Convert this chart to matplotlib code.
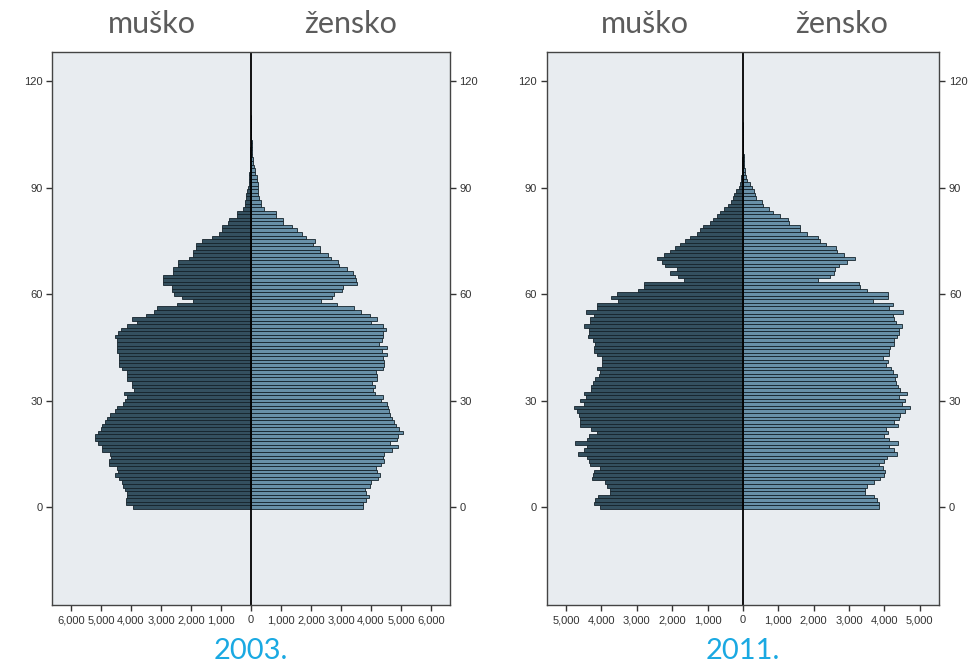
import matplotlib
matplotlib.use("Agg")
import matplotlib.pyplot as plt
from matplotlib.ticker import FuncFormatter
import numpy as np

# population by single year of age, 0 .. end
male_2003 = [3920, 4180, 4160, 4140, 4120, 4200, 4260, 4310, 4390, 4530,
             4420, 4480, 4720, 4720, 4650, 4700, 4980, 4950, 5110, 5200,
             5180, 5090, 5010, 4950, 4870, 4810, 4700, 4530, 4450, 4280,
             4200, 4140, 4220, 3900, 3980, 3980, 4140, 4140, 4140, 4310,
             4400, 4400, 4400, 4400, 4450, 4450, 4450, 4470, 4530, 4440,
             4340, 4120, 3810, 3960, 3510, 3230, 3120, 2480, 1940, 2290,
             2570, 2640, 2640, 2940, 2940, 2940, 2590, 2590, 2440, 2440,
             2050, 1940, 1940, 1840, 1840, 1640, 1300, 1060, 950, 950,
             750, 720, 460, 460, 260, 200, 200, 180, 150, 120,
             90, 80, 70, 60, 50, 40, 35, 30, 25, 20,
             18, 15, 12, 10, 8, 6, 5, 4, 3, 3, 2]
female_2003 = [3740, 3740, 3840, 3920, 3840, 3800, 3970, 3990, 4220, 4300,
               4190, 4170, 4320, 4430, 4410, 4430, 4690, 4910, 4630, 4880,
               4910, 5060, 4940, 4850, 4770, 4690, 4630, 4610, 4560, 4520,
               4320, 4390, 4130, 4080, 4130, 4020, 4190, 4190, 4170, 4390,
               4430, 4430, 4390, 4520, 4360, 4520, 4280, 4360, 4390, 4410,
               4490, 4390, 4000, 4190, 3970, 3660, 3430, 2860, 2330, 2690,
               2770, 3020, 3060, 3540, 3500, 3470, 3410, 3190, 2930, 2890,
               2660, 2580, 2300, 2300, 2080, 2130, 1830, 1690, 1520, 1360,
               1080, 1060, 830, 830, 430, 330, 330, 280, 240, 240,
               240, 240, 190, 190, 130, 130, 100, 80, 60, 50,
               40, 30, 25, 20, 15, 12, 10, 8, 6, 4, 3]
male_2011 = [4050, 4220, 4170, 4110, 3750, 3750, 3850, 3890, 4270, 4250,
             4200, 4030, 4330, 4360, 4410, 4670, 4500, 4410, 4740, 4420,
             4360, 4140, 4310, 4600, 4600, 4610, 4640, 4690, 4770, 4500,
             4600, 4450, 4500, 4310, 4290, 4250, 4170, 4060, 4030, 4120,
             3980, 3980, 3980, 4140, 4200, 4200, 4170, 4250, 4390, 4360,
             4360, 4500, 4330, 4330, 4220, 4450, 4120, 4120, 3540, 3730,
             3560, 2980, 2810, 2790, 1680, 1850, 2050, 1860, 2190, 2290,
             2430, 2240, 2050, 1910, 1770, 1630, 1510, 1300, 1210, 1130,
             920, 850, 730, 640, 530, 410, 330, 290, 240, 190,
             120, 80, 60, 45, 35, 28, 22, 18, 14, 11,
             9, 7, 5, 4, 3, 3, 2, 2, 1]
female_2011 = [3850, 3850, 3780, 3710, 3450, 3450, 3520, 3710, 3880, 3980,
               4020, 3950, 3850, 4000, 4070, 4360, 4280, 4140, 4390, 4140,
               4000, 4110, 4050, 4390, 4280, 4420, 4440, 4580, 4710, 4490,
               4580, 4420, 4630, 4440, 4390, 4330, 4310, 4360, 4240, 4180,
               4050, 4110, 3950, 4140, 4140, 4160, 4280, 4280, 4360, 4420,
               4420, 4490, 4330, 4280, 4240, 4520, 4140, 4250, 3670, 4110,
               4090, 3500, 3310, 3270, 2110, 2450, 2580, 2590, 2720, 2950,
               3170, 2860, 2670, 2640, 2340, 2180, 2110, 1820, 1600, 1600,
               1290, 1260, 1050, 850, 740, 580, 540, 380, 350, 300,
               250, 190, 110, 80, 65, 50, 40, 30, 22, 17,
               12, 9, 7, 5, 4, 3, 2, 2, 1]

years = ["2003.", "2011."]
x_ticks_2003 = [-6000, -5000, -4000, -3000, -2000, -1000, 0, 1000, 2000, 3000, 4000, 5000, 6000]
x_ticks_2011 = [-5000, -4000, -3000, -2000, -1000, 0, 1000, 2000, 3000, 4000, 5000]
y_ticks = [0, 30, 60, 90, 120]

MALE_COLOR = "#34505f"
FEMALE_COLOR = "#6890a8"
EDGE_COLOR = "#15232b"
BG_COLOR = "#e8ecf0"


def pyramid(ax, male, female, xlim, xticks):
    ages_m = np.arange(len(male))
    ages_f = np.arange(len(female))
    ax.set_facecolor(BG_COLOR)
    ax.barh(ages_m, -np.array(male), height=1.0, color=MALE_COLOR,
            edgecolor=EDGE_COLOR, linewidth=0.6)
    ax.barh(ages_f, np.array(female), height=1.0, color=FEMALE_COLOR,
            edgecolor=EDGE_COLOR, linewidth=0.6)
    ax.axvline(0, color="black", linewidth=1.3)
    ax.set_xlim(-xlim, xlim)
    ax.set_ylim(-27.6, 128.2)
    ax.set_xticks(xticks)
    ax.xaxis.set_major_formatter(FuncFormatter(lambda v, p: f"{abs(int(v)):,}"))
    ax.set_yticks(y_ticks)
    ax.tick_params(axis="both", labelsize=8, colors="#333333", length=4, width=1)
    ax.tick_params(axis="y", right=True, labelright=True, pad=3)
    for s in ax.spines.values():
        s.set_color("#444444")
        s.set_linewidth(1.0)


plt.rcParams["font.family"] = ["Liberation Sans", "DejaVu Sans"]

fig = plt.figure(figsize=(9.72, 6.66), dpi=100)

ax1 = fig.add_axes([0.0538, 0.0916, 0.4087, 0.8303])
pyramid(ax1, male_2003, female_2003, 6620, x_ticks_2003)

ax2 = fig.add_axes([0.5624, 0.0916, 0.4039, 0.8303])
pyramid(ax2, male_2011, female_2011, 5550, x_ticks_2011)

for ax, year in zip([ax1, ax2], years):
    ax.text(0.25, 1.05, "muško", transform=ax.transAxes, ha="center", va="center",
            fontsize=22, color="#5c5c5c", family=["Lato", "DejaVu Sans"])
    ax.text(0.75, 1.05, "žensko", transform=ax.transAxes, ha="center", va="center",
            fontsize=22, color="#5c5c5c", family=["Lato", "DejaVu Sans"])
    ax.text(0.5, -0.084, year, transform=ax.transAxes, ha="center", va="center",
            fontsize=21, color="#1aa9e2", family=["Lato", "DejaVu Sans"])

fig.savefig("out.png", dpi=100)
